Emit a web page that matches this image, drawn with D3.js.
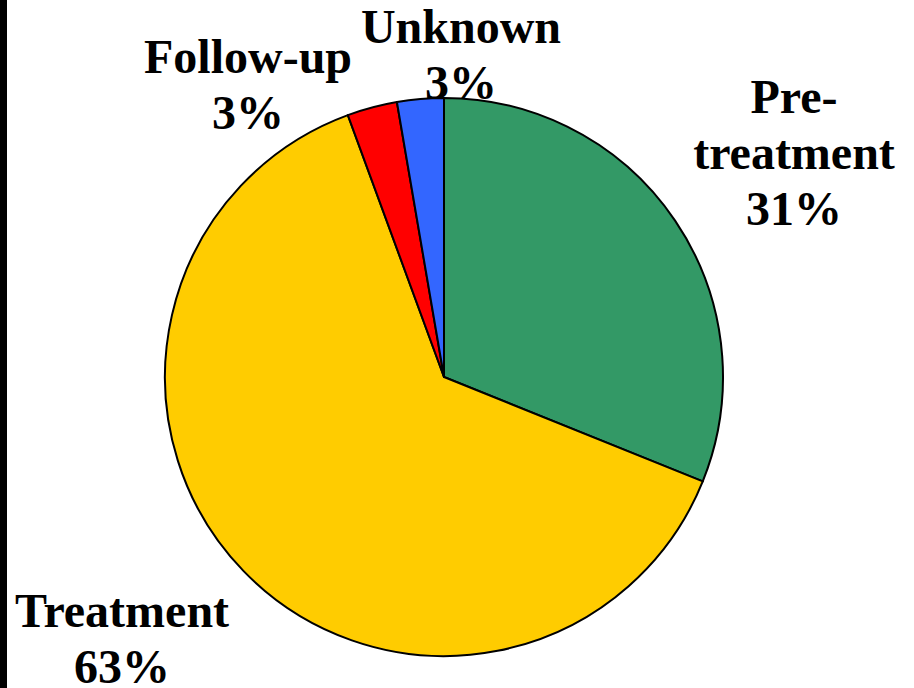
<!DOCTYPE html>
<html>
<head>
<meta charset="utf-8">
<script src="https://cdn.jsdelivr.net/npm/d3@7"></script>
<style>
  html, body { margin: 0; padding: 0; background: #fff; }
  svg { display: block; }
  text { font-family: "Times New Roman", "Liberation Serif", serif; font-weight: bold; fill: #000; }
</style>
</head>
<body>
<svg id="chart" width="914" height="688"></svg>
<script>
// Share of records by study phase (clockwise from 12 o'clock)
const categories = ["Pre-treatment", "Treatment", "Follow-up", "Unknown"];
const values = [31.1, 63.3, 2.9, 2.7];
const percentLabels = ["31%", "63%", "3%", "3%"];
const labelLines = [["Pre-", "treatment"], ["Treatment"], ["Follow-up"], ["Unknown"]];
const colors = ["#339966", "#FFCC00", "#FF0000", "#3366FF"];

const W = 914, H = 688;
const cx = 444, cy = 377, R = 279;
const svg = d3.select("#chart");

// dark strip along the left edge
svg.append("rect").attr("x", 0).attr("y", 0).attr("width", 7).attr("height", H).attr("fill", "#000");

const data = categories.map((c, i) => ({ name: c, value: values[i], pct: percentLabels[i], lines: labelLines[i], color: colors[i] }));

const pie = d3.pie().value(d => d.value).sort(null);
const arc = d3.arc().innerRadius(0).outerRadius(R);

const g = svg.append("g").attr("transform", `translate(${cx},${cy})`);
g.selectAll("path")
  .data(pie(data))
  .join("path")
  .attr("d", arc)
  .attr("fill", d => d.data.color)
  .attr("stroke", "#000")
  .attr("stroke-width", 2)
  .attr("stroke-linejoin", "round");

// label anchor positions (centre x, first baseline y)
const labelPos = {
  "Pre-treatment": [794, 113],
  "Treatment": [122, 627],
  "Follow-up": [248, 73],
  "Unknown": [461, 43]
};
const lineH = 56;
const fontSize = 48;

data.forEach(d => {
  const [x, y] = labelPos[d.name];
  const t = svg.append("text")
    .attr("x", x).attr("y", y)
    .attr("text-anchor", "middle")
    .style("font-size", fontSize + "px");
  const lines = d.lines.concat([d.pct]);
  lines.forEach((ln, i) => {
    t.append("tspan").attr("x", x).attr("y", y + i * lineH).text(ln);
  });
});
</script>
</body>
</html>
